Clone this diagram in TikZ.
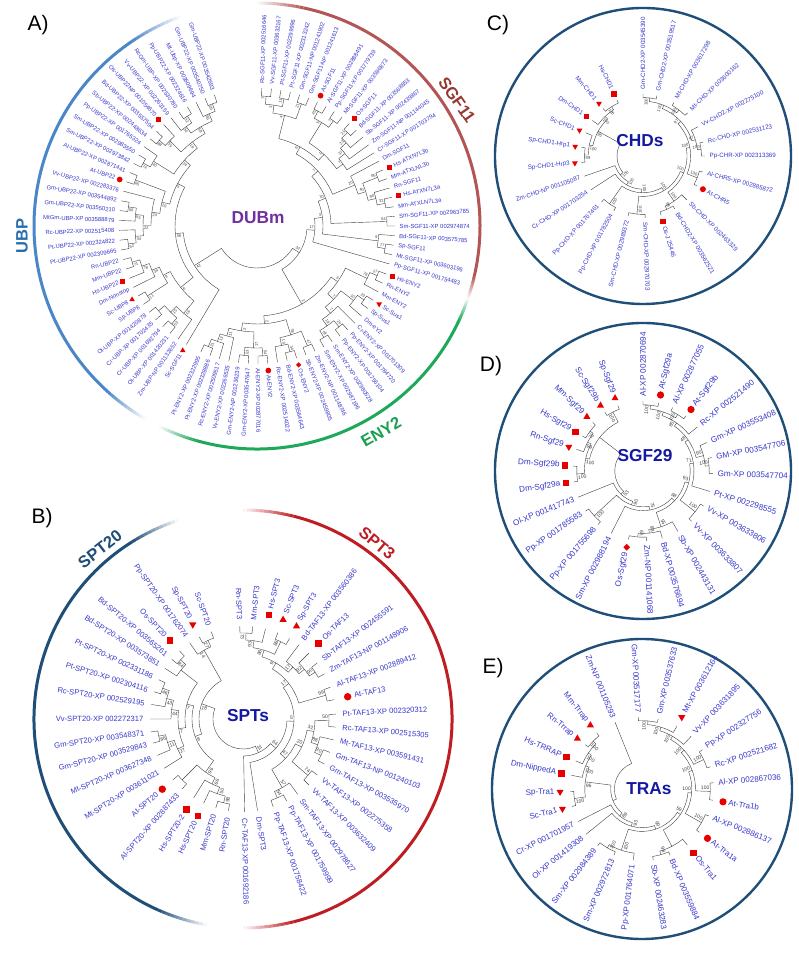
\documentclass[tikz,border=0pt]{standalone}
\usepackage{fontspec}
\setmainfont{Liberation Sans}
\usetikzlibrary{shapes.geometric}
\definecolor{lblc}{RGB}{55,55,205}
\definecolor{mkred}{RGB}{230,0,0}
\definecolor{ubpc}{RGB}{74,134,200}
\definecolor{ubpt}{RGB}{40,110,175}
\definecolor{sgfc}{RGB}{180,85,85}
\definecolor{sgft}{RGB}{150,55,50}
\definecolor{enyc}{RGB}{30,168,90}
\definecolor{enyt}{RGB}{25,160,80}
\definecolor{navy}{RGB}{31,78,121}
\definecolor{sptr}{RGB}{190,30,35}
\definecolor{dubc}{RGB}{112,48,160}
\definecolor{ctrc}{RGB}{20,25,160}

\tikzset{
  lbl/.style={text=lblc, inner sep=0.5pt, font=\fontsize{\LFs}{\LFs}\selectfont},
  bsl/.style={text=black!75, inner sep=0.3pt, font=\fontsize{\BSfs}{\BSfs}\selectfont},
  br/.style={draw=black!75, line width=0.4pt},
  mks/.style={fill=mkred, rectangle, minimum size=\Ms, inner sep=0pt},
  mkc/.style={fill=mkred, circle, minimum size=1.15*\Ms, inner sep=0pt},
  mku/.style={fill=mkred, regular polygon, regular polygon sides=3, minimum size=1.3*\Ms, inner sep=0pt},
  mkd/.style={mku, shape border rotate=180},
  mkm/.style={fill=mkred, diamond, minimum size=1.1*\Ms, inner sep=0pt},
  ring/.style={draw=navy, line width=2.4pt},
  ctr/.style={font=\bfseries\fontsize{17.3}{17.3}\selectfont, inner sep=0pt},
  plab/.style={font=\fontsize{21}{21}\selectfont, inner sep=0pt},
  glab/.style={font=\bfseries\fontsize{16.5}{16.5}\selectfont, inner sep=0pt}
}

\newcommand\myMark[3]{\pgfmathsetmacro\myMr{\RL+\Mo}%
  \if s#2\node[mks] (MK-#1) at ([shift={(#3:\myMr)}]\tC) {};\fi
  \if c#2\node[mkc] (MK-#1) at ([shift={(#3:\myMr)}]\tC) {};\fi
  \if u#2\node[mku] (MK-#1) at ([shift={(#3:\myMr)}]\tC) {};\fi
  \if d#2\node[mkd] (MK-#1) at ([shift={(#3:\myMr)}]\tC) {};\fi
  \if m#2\node[mkm] (MK-#1) at ([shift={(#3:\myMr)}]\tC) {};\fi}

\newcommand\myLeaf[4]{%
  \expandafter\xdef\csname a@#1\endcsname{#2}%
  \expandafter\xdef\csname r@#1\endcsname{\RL}%
  \pgfmathsetmacro\myLa{mod(#2+720,360)}%
  \if n#4\relax\edef\myLo{\Lg}\else\edef\myLo{\Mg}\myMark{#1}{#4}{#2}\fi
  \pgfmathsetmacro\myLr{\RL+\myLo}%
  \pgfmathtruncatemacro\myLeft{(\myLa>90.5 && \myLa<269.5) ? 1 : 0}%
  \ifnum\myLeft=1
    \pgfmathsetmacro\myRot{\myLa-180}%
    \node[lbl,anchor=east,rotate=\myRot] (L-#1) at ([shift={(#2:\myLr)}]\tC) {#3};%
  \else
    \node[lbl,anchor=west,rotate=\myLa] (L-#1) at ([shift={(#2:\myLr)}]\tC) {#3};%
  \fi}

\newcommand\myBoot[4]{%
  \pgfmathsetmacro\myBa{#2+\BSfs*0.75/max(#3,5)*57.3}%
  \pgfmathsetmacro\myBr{#3-0.5}%
  \pgfmathsetmacro\myBl{mod(\myBa+720,360)}%
  \pgfmathtruncatemacro\myBleft{(\myBl>90 && \myBl<270) ? 1 : 0}%
  \ifnum\myBleft=1
    \pgfmathsetmacro\myBrot{\myBl-180}%
    \node[bsl,anchor=west,rotate=\myBrot] (B-#1) at ([shift={(\myBa:\myBr)}]\tC) {#4};%
  \else
    \node[bsl,anchor=east,rotate=\myBl] (B-#1) at ([shift={(\myBa:\myBr)}]\tC) {#4};%
  \fi}

\newcommand\myJoin[4]{%
  \edef\myJa{\csname a@#2\endcsname}\edef\myJb{\csname a@#3\endcsname}%
  \edef\myJra{\csname r@#2\endcsname}\edef\myJrb{\csname r@#3\endcsname}%
  \pgfmathsetmacro\myJr{min(\myJra,\myJrb)-\Stp}%
  \pgfmathsetmacro\myJm{(\myJa+\myJb)/2}%
  \expandafter\xdef\csname a@#1\endcsname{\myJm}%
  \expandafter\xdef\csname r@#1\endcsname{\myJr}%
  \draw[br] ([shift={(\myJa:\myJra)}]\tC) -- ([shift={(\myJa:\myJr)}]\tC) arc[start angle=\myJa,end angle=\myJb,radius=\myJr] -- ([shift={(\myJb:\myJrb)}]\tC);%
  \if\relax\detokenize{#4}\relax\else\myBoot{#1}{\myJm}{\myJr}{#4}\fi}

\newcommand\myFarc[8]{%
  \pgfmathsetmacro\myFa{#3+#7}\pgfmathsetmacro\myFb{#4-#8}%
  \draw[#5,line width=#6] ([shift={(\myFa:#2)}]#1) arc[start angle=\myFa,end angle=\myFb,radius=#2];%
  \foreach \k in {0,...,11}{%
    \pgfmathsetmacro\myS{#3+#7*\k/12}\pgfmathsetmacro\myE{#3+#7*(\k+1)/12}\pgfmathsetmacro\myO{(\k+0.5)/12}%
    \draw[#5,line width=#6,draw opacity=\myO] ([shift={(\myS:#2)}]#1) arc[start angle=\myS,end angle=\myE,radius=#2];%
    \pgfmathsetmacro\myS{#4-#8*\k/12}\pgfmathsetmacro\myE{#4-#8*(\k+1)/12}%
    \draw[#5,line width=#6,draw opacity=\myO] ([shift={(\myS:#2)}]#1) arc[start angle=\myS,end angle=\myE,radius=#2];%
  }}

\begin{document}
\begin{tikzpicture}[x=1pt,y=1pt]
\fill[white] (0,0) rectangle (799,959);
\useasboundingbox (0,0) rectangle (799,959);

\coordinate (TA) at (257,733);
\coordinate (TB) at (243,240);
\coordinate (TC) at (643,803);
\coordinate (TD) at (643,488);
\coordinate (TE) at (642,170);

% ---------- rings and arcs
\myFarc{TA}{223}{110}{240}{ubpc}{3pt}{14}{12}
\myFarc{TA}{223}{244}{341}{enyc}{3pt}{10}{6}
\myFarc{TA}{223}{-19}{90}{sgfc}{3pt}{6}{12}
\myFarc{TB}{209}{108}{260}{navy}{3pt}{14}{14}
\myFarc{TB}{209}{-90}{90}{sptr}{3pt}{14}{14}
\draw[ring] (TC) circle[radius=148];
\draw[ring] (TD) circle[radius=148];
\draw[ring] (TE) circle[radius=150];

% ---------- panel and group labels
\node[plab] (pA) at (38,934) {A)};
\node[plab] (pB) at (42,441) {B)};
\node[plab] (pC) at (498,934) {C)};
\node[plab] (pD) at (491,593) {D)};
\node[plab] (pE) at (493,291) {E)};
\node[glab,text=ubpt,rotate=90] (gUBP) at (22,723) {UBP};
\node[glab,text=sgft,rotate=-55] (gSGF) at (457,859) {SGF11};
\node[glab,text=enyt,rotate=30] (gENY) at (381,527) {ENY2};
\node[glab,text=navy,rotate=38] (gSPT20) at (100,410) {SPT20};
\node[glab,text=sptr,rotate=-40] (gSPT3) at (377,416) {SPT3};

% ================= Tree C
\def\tC{TC}\def\RL{62}\def\Lg{4}\def\Mo{6.5}\def\Mg{11}\def\Stp{3.6}\def\LFs{6.2}\def\BSfs{4.2}\def\Ms{5.2pt}
\myLeaf{c1}{90}{Gm-CHD2-XP 003545390}{n}
\myLeaf{c2}{77}{Gm-CHD2-XP 003519517}{n}
\myLeaf{c3}{60}{Mt-CHD-XP 003617298}{n}
\myLeaf{c4}{44}{Mt-CHD-XP 003600162}{n}
\myLeaf{c5}{28}{Vv-CHD2-XP 002275100}{n}
\myLeaf{c6}{13}{Rc-CHD-XP 002531123}{n}
\myLeaf{c7}{0}{Pp-CHR-XP 002313369}{n}
\myLeaf{c8}{-15}{Al-CHR5-XP 002885872}{n}
\myLeaf{c9}{-29}{At-CHR5}{c}
\myLeaf{c10}{-45}{Sb-CHD-XP 002463329}{n}
\myLeaf{c11}{-59}{Bd-CHD2-XP 003562521}{n}
\myLeaf{c12}{-73}{Os-J 25446}{s}
\myLeaf{c13}{-88}{Sm-CHD-XP 002970703}{n}
\myLeaf{c14}{-104}{Sm-CHD-XP 002989372}{n}
\myLeaf{c15}{-118}{Pp-CHD-XP 001782504}{n}
\myLeaf{c16}{-132}{Pp-CHD-XP 001767461}{n}
\myLeaf{c17}{-147}{Cr-CHD-XP 001703254}{n}
\myLeaf{c18}{-161}{Zm-CHD-NP 001105087}{n}
\myLeaf{c19}{-174}{Sp-CHD1-Hrp3}{d}
\myLeaf{c20}{-188}{Sp-CHD1-Hrp1}{d}
\myLeaf{c21}{-202}{Sc-CHD1}{d}
\myLeaf{c22}{-215}{Dm-CHD1}{s}
\myLeaf{c23}{-230}{Mm-CHD1}{d}
\myLeaf{c24}{-245}{Hs-CHD1}{s}
\myJoin{cj1}{c1}{c2}{100}
\myJoin{cj2}{c3}{c4}{100}
\myJoin{cj3}{cj1}{cj2}{100}
\myJoin{cj4}{c6}{c7}{100}
\myJoin{cj5}{c5}{cj4}{97}
\myJoin{cj6}{cj3}{cj5}{97}
\myJoin{cj7}{c8}{c9}{100}
\myJoin{cj8}{cj6}{cj7}{100}
\myJoin{cj9}{c11}{c12}{99}
\myJoin{cj10}{c10}{cj9}{100}
\myJoin{cj11}{cj8}{cj10}{100}
\myJoin{cj12}{c13}{c14}{100}
\myJoin{cj13}{cj11}{cj12}{100}
\myJoin{cj14}{c15}{c16}{100}
\myJoin{cj15}{cj13}{cj14}{100}
\myJoin{cj16}{cj15}{c17}{100}
\myJoin{cj17}{cj16}{c18}{100}
\myJoin{cj18}{c19}{c20}{99}
\myJoin{cj19}{cj18}{c21}{100}
\myJoin{cj20}{c23}{c24}{100}
\myJoin{cj21}{c22}{cj20}{100}
\myJoin{cj22}{cj19}{cj21}{95}
\myJoin{cj23}{cj17}{cj22}{}
\node[ctr,text=ctrc] (cCHD) at (640,818) {CHDs};

% ================= Tree D
\def\tC{TD}\def\RL{70}\def\Lg{4}\def\Mo{8}\def\Mg{13}\def\Stp{3.8}\def\LFs{8.2}\def\BSfs{5}\def\Ms{6.3pt}
\myLeaf{d1}{90}{Al-XP 002870694}{n}
\myLeaf{d2}{77}{At-Sgf29a}{c}
\myLeaf{d3}{65}{Al-XP 002877055}{n}
\myLeaf{d4}{52}{At-Sgf29b}{c}
\myLeaf{d5}{39}{Rc-XP 002521490}{n}
\myLeaf{d6}{24}{Gm-XP 003553408}{n}
\myLeaf{d7}{11}{GM-XP 003547706}{n}
\myLeaf{d8}{-2}{Gm-XP 003547704}{n}
\myLeaf{d9}{-17}{Pt-XP 002298555}{n}
\myLeaf{d10}{-30}{Vv-XP 003633806}{n}
\myLeaf{d11}{-46}{Vv-XP 003633807}{n}
\myLeaf{d12}{-60}{Sb-XP 002443131}{n}
\myLeaf{d13}{-74}{Bd-XP 003576694}{n}
\myLeaf{d14}{-87}{Zm-NP 001141068}{n}
\myLeaf{d15}{-102}{Os-Sgf29}{m}
\myLeaf{d16}{-117}{Sm-XP 002988194}{n}
\myLeaf{d17}{-130}{Pp-XP 001755698}{n}
\myLeaf{d18}{-145}{Pp-XP 001785583}{n}
\myLeaf{d19}{-158}{Ol-XP 001417743}{n}
\myLeaf{d20}{-171}{Dm-Sgf29a}{s}
\myLeaf{d21}{-184}{Dm-Sgf29b}{s}
\myLeaf{d22}{-198}{Rn-Sgf29}{d}
\myLeaf{d23}{-210}{Hs-Sgf29}{s}
\myLeaf{d24}{-224}{Mm-Sgf29}{u}
\myLeaf{d25}{-237}{Sc-Sgf29b}{u}
\myLeaf{d26}{-249}{Sp-Sgf29}{u}
\myJoin{dj1}{d1}{d2}{100}
\myJoin{dj2}{d3}{d4}{100}
\myJoin{dj3}{dj1}{dj2}{100}
\myJoin{dj4}{dj3}{d5}{85}
\myJoin{dj5}{d7}{d8}{100}
\myJoin{dj6}{d6}{dj5}{90}
\myJoin{dj7}{dj4}{dj6}{48}
\myJoin{dj8}{dj7}{d9}{71}
\myJoin{dj9}{d10}{d11}{100}
\myJoin{dj10}{dj8}{dj9}{93}
\myJoin{dj11}{d14}{d15}{79}
\myJoin{dj12}{d13}{dj11}{98}
\myJoin{dj13}{d12}{dj12}{55}
\myJoin{dj14}{dj10}{dj13}{68}
\myJoin{dj15}{dj14}{d16}{75}
\myJoin{dj16}{d17}{d18}{100}
\myJoin{dj17}{dj15}{dj16}{90}
\myJoin{dj18}{dj17}{d19}{53}
\myJoin{dj19}{d20}{d21}{100}
\myJoin{dj20}{d23}{d24}{72}
\myJoin{dj21}{d22}{dj20}{99}
\myJoin{dj22}{dj19}{dj21}{100}
\myJoin{dj23}{d25}{d26}{100}
\myJoin{dj24}{dj22}{dj23}{}
\myJoin{dj25}{dj18}{dj24}{}
\node[ctr,text=ctrc] (cSGF) at (645,503) {SGF29};

% ================= Tree E
\def\tC{TE}\def\RL{72}\def\Lg{4}\def\Mo{10}\def\Mg{15}\def\Stp{3.7}\def\LFs{8}\def\BSfs{5}\def\Ms{6.3pt}
\myLeaf{e1}{-248}{Zm-NP 001105293}{n}
\myLeaf{e2}{93}{Gm-XP 003517177}{n}
\myLeaf{e3}{77}{Gm-XP 003537633}{n}
\myLeaf{e4}{61}{Mt-XP 003612164}{d}
\myLeaf{e5}{47}{Vv-XP 003631895}{n}
\myLeaf{e6}{33}{Pp-XP 002327756}{n}
\myLeaf{e7}{18}{Rc-XP 002521682}{n}
\myLeaf{e8}{5}{Al-XP 002867036}{n}
\myLeaf{e9}{-9}{At-Tra1b}{c}
\myLeaf{e10}{-22}{Al-XP 002886137}{n}
\myLeaf{e11}{-37}{At-Tra1a}{c}
\myLeaf{e12}{-51}{Os-Tra1}{s}
\myLeaf{e13}{-67}{Bd-XP 003559884}{n}
\myLeaf{e14}{-81}{Sb-XP 002463283}{n}
\myLeaf{e15}{-97}{Pp-XP 001764071}{n}
\myLeaf{e16}{-113}{Sm-XP 002972813}{n}
\myLeaf{e17}{-128}{Sm-XP 002984389}{n}
\myLeaf{e18}{-141}{Ol-XP 001419308}{n}
\myLeaf{e19}{-153}{Cr-XP 001701957}{n}
\myLeaf{e20}{-166}{Sc-Tra1}{d}
\myLeaf{e21}{-178}{Sp-Tra1}{d}
\myLeaf{e22}{-191}{Dm-NippedA}{s}
\myLeaf{e23}{-203}{Hs-TRRAP}{s}
\myLeaf{e24}{-218}{Rn-Trrap}{u}
\myLeaf{e25}{-231}{Mm-Trrap}{u}
\myJoin{ej1}{e2}{e3}{100}
\myJoin{ej2}{ej1}{e4}{100}
\myJoin{ej3}{ej2}{e5}{100}
\myJoin{ej4}{e6}{e7}{100}
\myJoin{ej5}{ej3}{ej4}{100}
\myJoin{ej6}{e8}{e9}{100}
\myJoin{ej7}{ej5}{ej6}{100}
\myJoin{ej8}{e10}{e11}{100}
\myJoin{ej9}{ej7}{ej8}{100}
\myJoin{ej10}{e13}{e14}{98}
\myJoin{ej11}{e12}{ej10}{}
\myJoin{ej12}{ej9}{ej11}{59}
\myJoin{ej13}{e16}{e17}{100}
\myJoin{ej14}{e15}{ej13}{100}
\myJoin{ej15}{ej12}{ej14}{99}
\myJoin{ej16}{ej15}{e18}{93}
\myJoin{ej17}{ej16}{e19}{89}
\myJoin{ej18}{e20}{e21}{100}
\myJoin{ej19}{e24}{e25}{100}
\myJoin{ej20}{e23}{ej19}{100}
\myJoin{ej21}{e22}{ej20}{100}
\myJoin{ej22}{ej18}{ej21}{96}
\myJoin{ej23}{ej17}{ej22}{}
\myJoin{ej24}{ej23}{e1}{}
\node[ctr,text=ctrc] (cTRA) at (649,170) {TRAs};

% ================= Tree B
\def\tC{TB}\def\RL{93}\def\Lg{6}\def\Mo{14}\def\Mg{20}\def\Stp{7}\def\LFs{7.6}\def\BSfs{5}\def\Ms{6.5pt}
\myLeaf{b1}{92}{Rn-SPT3}{n}
\myLeaf{b2}{84}{Mm-SPT3}{n}
\myLeaf{b3}{76}{Hs-SPT3}{s}
\myLeaf{b4}{68}{Sc-SPT3}{u}
\myLeaf{b5}{60}{Sp-SPT3}{u}
\myLeaf{b6}{53}{Bd-TAF13-XP 003560386}{n}
\myLeaf{b7}{45}{Os-TAF13}{s}
\myLeaf{b8}{37}{Sb-TAF13-XP 002455591}{n}
\myLeaf{b9}{29}{Zm-TAF13-NP 001148906}{n}
\myLeaf{b10}{20}{Al-TAF13-XP 002889412}{n}
\myLeaf{b11}{12}{At-TAF13}{c}
\myLeaf{b12}{3}{Pt-TAF13-XP 002320312}{n}
\myLeaf{b13}{-5}{Rc-TAF13-XP 002515305}{n}
\myLeaf{b14}{-13}{Mt-TAF13-XP 003591431}{n}
\myLeaf{b15}{-21}{Gm-TAF13-NP 001240103}{n}
\myLeaf{b16}{-29}{Gm-TAF13-XP 003535970}{n}
\myLeaf{b17}{-37}{Vv-TAF13-XP 002275358}{n}
\myLeaf{b18}{-45}{Vv-TAF13-XP 003632409}{n}
\myLeaf{b19}{-54}{Sm-TAF13-XP 002978627}{n}
\myLeaf{b20}{-62}{Pp-TAF13-XP 001759999}{n}
\myLeaf{b21}{-71}{Pp-TAF13-XP 001758422}{n}
\myLeaf{b22}{-81}{Dm-SPT3}{n}
\myLeaf{b23}{-89}{Cr-TAF13-XP 001692186}{n}
\myLeaf{b24}{-99}{Rn-SPT20}{n}
\myLeaf{b25}{-107}{Mm-SPT20}{n}
\myLeaf{b26}{-115}{Hs-SPT20}{s}
\myLeaf{b27}{-122}{Hs-SPT20-2}{s}
\myLeaf{b28}{-131}{Al-SPT20-XP 002887433}{n}
\myLeaf{b29}{-139}{At-SPT20}{c}
\myLeaf{b30}{-148}{Mt-SPT20-XP 003611021}{n}
\myLeaf{b31}{-157}{Mt-SPT20-XP 003627348}{n}
\myLeaf{b32}{-165}{Gm-SPT20-XP 003529843}{n}
\myLeaf{b33}{-172}{Gm-SPT20-XP 003548371}{n}
\myLeaf{b34}{-180}{Vv-SPT20-XP 002272317}{n}
\myLeaf{b35}{-189}{Rc-SPT20-XP 002529195}{n}
\myLeaf{b36}{-197}{Pt-SPT20-XP 002304116}{n}
\myLeaf{b37}{-205}{Pt-SPT20-XP 002331186}{n}
\myLeaf{b38}{-213}{Bd-SPT20-XP 003573851}{n}
\myLeaf{b39}{-220}{Bd-SPT20-XP 003565261}{n}
\myLeaf{b40}{-227}{Os-SPT20}{s}
\myLeaf{b41}{-235}{Pp-SPT20-XP 001762074}{n}
\myLeaf{b42}{-242}{Sp-SPT20}{d}
\myLeaf{b43}{-250}{Sc-SPT20}{n}
\myJoin{bj1}{b1}{b2}{73}
\myJoin{bj2}{bj1}{b3}{93}
\myJoin{bj3}{b4}{b5}{88}
\myJoin{bj4}{bj2}{bj3}{86}
\myJoin{bj5}{b8}{b9}{90}
\myJoin{bj6}{b7}{bj5}{92}
\myJoin{bj7}{b6}{bj6}{17}
\myJoin{bj8}{bj4}{bj7}{9}
\myJoin{bj9}{b10}{b11}{99}
\myJoin{bj10}{bj8}{bj9}{17}
\myJoin{bj11}{b12}{b13}{50}
\myJoin{bj12}{b15}{b16}{90}
\myJoin{bj13}{b14}{bj12}{88}
\myJoin{bj14}{bj11}{bj13}{32}
\myJoin{bj15}{b17}{b18}{74}
\myJoin{bj16}{bj14}{bj15}{20}
\myJoin{bj17}{b20}{b21}{54}
\myJoin{bj18}{b19}{bj17}{57}
\myJoin{bj19}{bj16}{bj18}{47}
\myJoin{bj20}{bj10}{bj19}{5}
\myJoin{bj21}{bj20}{b22}{64}
\myJoin{bj22}{bj21}{b23}{31}
\myJoin{bk1}{b24}{b25}{98}
\myJoin{bk2}{b26}{bk1}{50}
\myJoin{bk3}{b27}{bk2}{66}
\myJoin{bk4}{b28}{b29}{}
\myJoin{bk5}{bk4}{bk3}{96}
\myJoin{bk6}{b32}{b33}{86}
\myJoin{bk7}{b31}{bk6}{11}
\myJoin{bk8}{b30}{bk7}{27}
\myJoin{bk9}{b36}{b37}{46}
\myJoin{bk10}{b35}{bk9}{43}
\myJoin{bk11}{b34}{bk10}{44}
\myJoin{bk12}{bk8}{bk11}{7}
\myJoin{bk13}{b39}{b40}{84}
\myJoin{bk14}{b38}{bk13}{}
\myJoin{bk15}{b42}{b43}{27}
\myJoin{bk16}{b41}{bk15}{14}
\myJoin{bk17}{bk12}{bk14}{7}
\myJoin{bk18}{bk5}{bk17}{8}
\myJoin{bk19}{bk18}{bk16}{18}
\myJoin{broot}{bj22}{bk19}{}
\node[ctr,text=ctrc] (cSPT) at (248,243) {SPTs};

% ================= Tree A
\def\tC{TA}\def\RL{138}\def\Lg{4}\def\Mo{7}\def\Mg{11}\def\Stp{8}\def\LFs{5.9}\def\BSfs{4}\def\Ms{5pt}
\foreach \i/\t/\m in {0/Gm-UBP22-XP 003542693/n,
1/Gm-UBP22-XP 003540750/n,
2/Mt-Ubp-XP 003609694/n,
3/Pp-UBP22-XP 002324616/n,
4/RcGm-UBP-XP 002530780/n,
5/Vv-UBP22-XP 002263159/n,
6/Os-UBP22NP 001054670/s,
7/Bd-UBP22-XP 003557594/n,
8/Sb-UBP22-XP 002448634/n,
9/Pp-UBP22-XP 001765324/n,
10/Sm-UBP22-XP 002983550/n,
11/Sm-UBP22-XP 002973842/n,
12/Al-UBP22-XP 002871441/n,
13/At-UBP22/c,
14/Vv-UBP22-XP 002283376/n,
15/Gm-UBP22-XP 003544892/n,
16/Gm-UBP22-XP 003550210/n,
17/MtGm-UBP-XP 003588879/n,
18/Rc-UBP22-XP 002515408/n,
19/Pt-UBP22-XP 002324822/n,
20/Pt-UBP22-XP 002309665/n,
21/Rn-UBP22/n,
22/Mm-UBP22/n,
23/Hs-UBP22/s,
24/Dm-Nonstop/n,
25/Sc-UBP8/u,
26/Sp-UBP8/n,
27/Ol-UBP-XP 001420878/n,
28/Cr-UBP-XP 001702435/n,
29/Cr-UBP-XP 001692794/n,
30/Ol-UBP-XP 001420231/n,
31/Zm-UBP-NP 001132652/n,
32/Sc-SGF11/u,
33/Pt-ENY2-XP 002322995/n,
34/Pt-ENY2-XP 002328886/n,
35/Rc-ENY2-XP 002509517/n,
36/Vv-ENY2-XP 002266535/n,
37/Gm-ENY2-NP 001236239/n,
38/Gm-ENY2-XP 003547647/n,
39/Al-ENY2-XP 002877016/n,
40/At-ENY2/c,
41/Rc-ENY2-XP 002514022/n,
42/Bd-ENY2-XP 003564643/n,
43/Os-ENY2/m,
44/Sb-ENY2-XP 002459805/n,
45/Zm-ENY2-NP 001148746/n,
46/Sm-ENY2-XP 002987196/n,
47/Sm-ENY2-XP 002980528/n,
48/Pp-ENY2-XP 001756104/n,
49/Pp-ENY2-XP 001784720/n,
50/Cr-ENY2-XP 001701309/n,
51/Dm-eY2/n,
52/Sp-Sus1/n,
53/Sc-Sus1/d,
54/Mm-ENY2/n,
55/Rn-ENY2/n,
56/Hs-ENY2/s,
57/Pp-SGF11-XP 001754483/n,
58/Mt-SGF11-XP 003603196/n,
59/Sp-SGF11/n,
60/Bd-SGF11-XP 003575785/n,
61/Sm-SGF11-XP 002974874/n,
62/Sm-SGF11-XP 002963785/n,
63/Mm-ATXLN7L3a/n,
64/Hs-ATXN7L3a/s,
65/Rn-SGF11/n,
66/Mm-ATXLNL3b/n,
67/Hs-ATXN7L3b/s,
68/Dm-SGF11/n,
69/Cr-SGF11-XP 001703794/n,
70/Zm-SGF11-NP 001144045/n,
71/Sb-SGF11-XP 002439867/n,
72/Bd-SGF11-XP 003568853/n,
73/Os-SGF11/s,
74/Mt-SGF11-XP 003596873/n,
75/Pp-SGF11-XP 001779739/n,
76/Al-SGF11-XP 002888491/n,
77/At-SGF11/c,
78/Gm-SGF11-NP 001241613/n,
79/Gm-SGF11-NP 001241902/n,
80/Pt-SGF11-XP 002313242/n,
81/Pt-SGF11-XP 002299996/n,
82/Vv-SGF11-XP 003632167/n,
83/Rc-SGF11-XP 002516646/n}{%
  \pgfmathsetmacro\ang{\i<33 ? 108+4.1*\i : (\i<57 ? 246+4.07*(\i-33) : 344+4*(\i-57))}%
  \myLeaf{A\i}{\ang}{\t}{\m}}
\myJoin{aj1}{A0}{A1}{69}
\myJoin{aj2}{aj1}{A2}{96}
\myJoin{aj3}{A3}{A4}{32}
\myJoin{aj4}{aj3}{A5}{30}
\myJoin{aj5}{aj2}{aj4}{59}
\myJoin{aj6}{A7}{A8}{88}
\myJoin{aj7}{A6}{aj6}{35}
\myJoin{aj8}{aj5}{aj7}{18}
\myJoin{aj9}{A10}{A11}{74}
\myJoin{aj10}{A9}{aj9}{40}
\myJoin{aj11}{aj8}{aj10}{24}
\myJoin{aj12}{A12}{A13}{85}
\myJoin{aj13}{A15}{A16}{56}
\myJoin{aj14}{aj13}{A17}{53}
\myJoin{aj15}{A19}{A20}{52}
\myJoin{aj16}{A18}{aj15}{44}
\myJoin{aj17}{aj14}{aj16}{22}
\myJoin{aj18}{A14}{aj17}{24}
\myJoin{aj19}{aj12}{aj18}{26}
\myJoin{aj20}{aj11}{aj19}{5}
\myJoin{aj21}{A21}{A22}{71}
\myJoin{aj22}{aj21}{A23}{78}
\myJoin{aj23}{aj22}{A24}{34}
\myJoin{aj24}{A25}{A26}{11}
\myJoin{aj25}{aj23}{aj24}{9}
\myJoin{aj26}{A27}{A28}{}
\myJoin{aj27}{A29}{A30}{53}
\myJoin{aj28}{aj26}{aj27}{15}
\myJoin{aj29}{aj28}{A31}{16}
\myJoin{aj30}{aj25}{aj29}{6}
\myJoin{aj31}{aj20}{aj30}{46}
\myJoin{aj32}{aj31}{A32}{42}
\myJoin{aj33}{A33}{A34}{31}
\myJoin{aj34}{aj33}{A35}{13}
\myJoin{aj35}{aj34}{A36}{11}
\myJoin{aj36}{A37}{A38}{53}
\myJoin{aj37}{A39}{A40}{54}
\myJoin{aj38}{aj36}{aj37}{17}
\myJoin{aj39}{aj35}{aj38}{2}
\myJoin{aj40}{A42}{A43}{34}
\myJoin{aj41}{A41}{aj40}{10}
\myJoin{aj42}{A44}{A45}{47}
\myJoin{aj43}{aj41}{aj42}{38}
\myJoin{aj44}{aj39}{aj43}{2}
\myJoin{aj45}{A46}{A47}{63}
\myJoin{aj46}{A48}{A49}{25}
\myJoin{aj47}{aj45}{aj46}{19}
\myJoin{aj48}{aj47}{A50}{7}
\myJoin{aj49}{A52}{A53}{23}
\myJoin{aj50}{A51}{aj49}{10}
\myJoin{aj51}{aj48}{aj50}{7}
\myJoin{aj52}{A55}{A56}{27}
\myJoin{aj53}{A54}{aj52}{78}
\myJoin{aj54}{aj51}{aj53}{3}
\myJoin{aj55}{aj44}{aj54}{2}
\myJoin{aj56}{A58}{A59}{77}
\myJoin{aj57}{aj56}{A60}{9}
\myJoin{aj58}{A61}{A62}{64}
\myJoin{aj59}{A63}{A64}{32}
\myJoin{aj60}{aj59}{A65}{90}
\myJoin{aj61}{A66}{A67}{85}
\myJoin{aj62}{aj60}{aj61}{40}
\myJoin{aj63}{aj62}{A68}{20}
\myJoin{aj64}{A72}{A73}{21}
\myJoin{aj65}{A71}{aj64}{23}
\myJoin{aj66}{A70}{aj65}{37}
\myJoin{aj67}{A69}{aj66}{7}
\myJoin{aj68}{A74}{A75}{7}
\myJoin{aj69}{A76}{A77}{45}
\myJoin{aj70}{aj68}{aj69}{5}
\myJoin{aj71}{aj67}{aj70}{1}
\myJoin{aj72}{A78}{A79}{21}
\myJoin{aj73}{A80}{A81}{11}
\myJoin{aj74}{A82}{A83}{7}
\myJoin{aj75}{aj73}{aj74}{3}
\myJoin{aj76}{aj72}{aj75}{4}
\myJoin{aj77}{aj71}{aj76}{6}
\myJoin{aj78}{aj63}{aj77}{7}
\myJoin{aj79}{aj58}{aj78}{10}
\myJoin{aj80}{aj57}{aj79}{3}
\myJoin{aj81}{A57}{aj80}{17}
\myJoin{aj82}{aj55}{aj81}{32}
\myJoin{aj83}{aj32}{aj82}{}
\node[ctr,text=dubc] (cDUB) at (258,741) {DUBm};
\end{tikzpicture}
\end{document}
